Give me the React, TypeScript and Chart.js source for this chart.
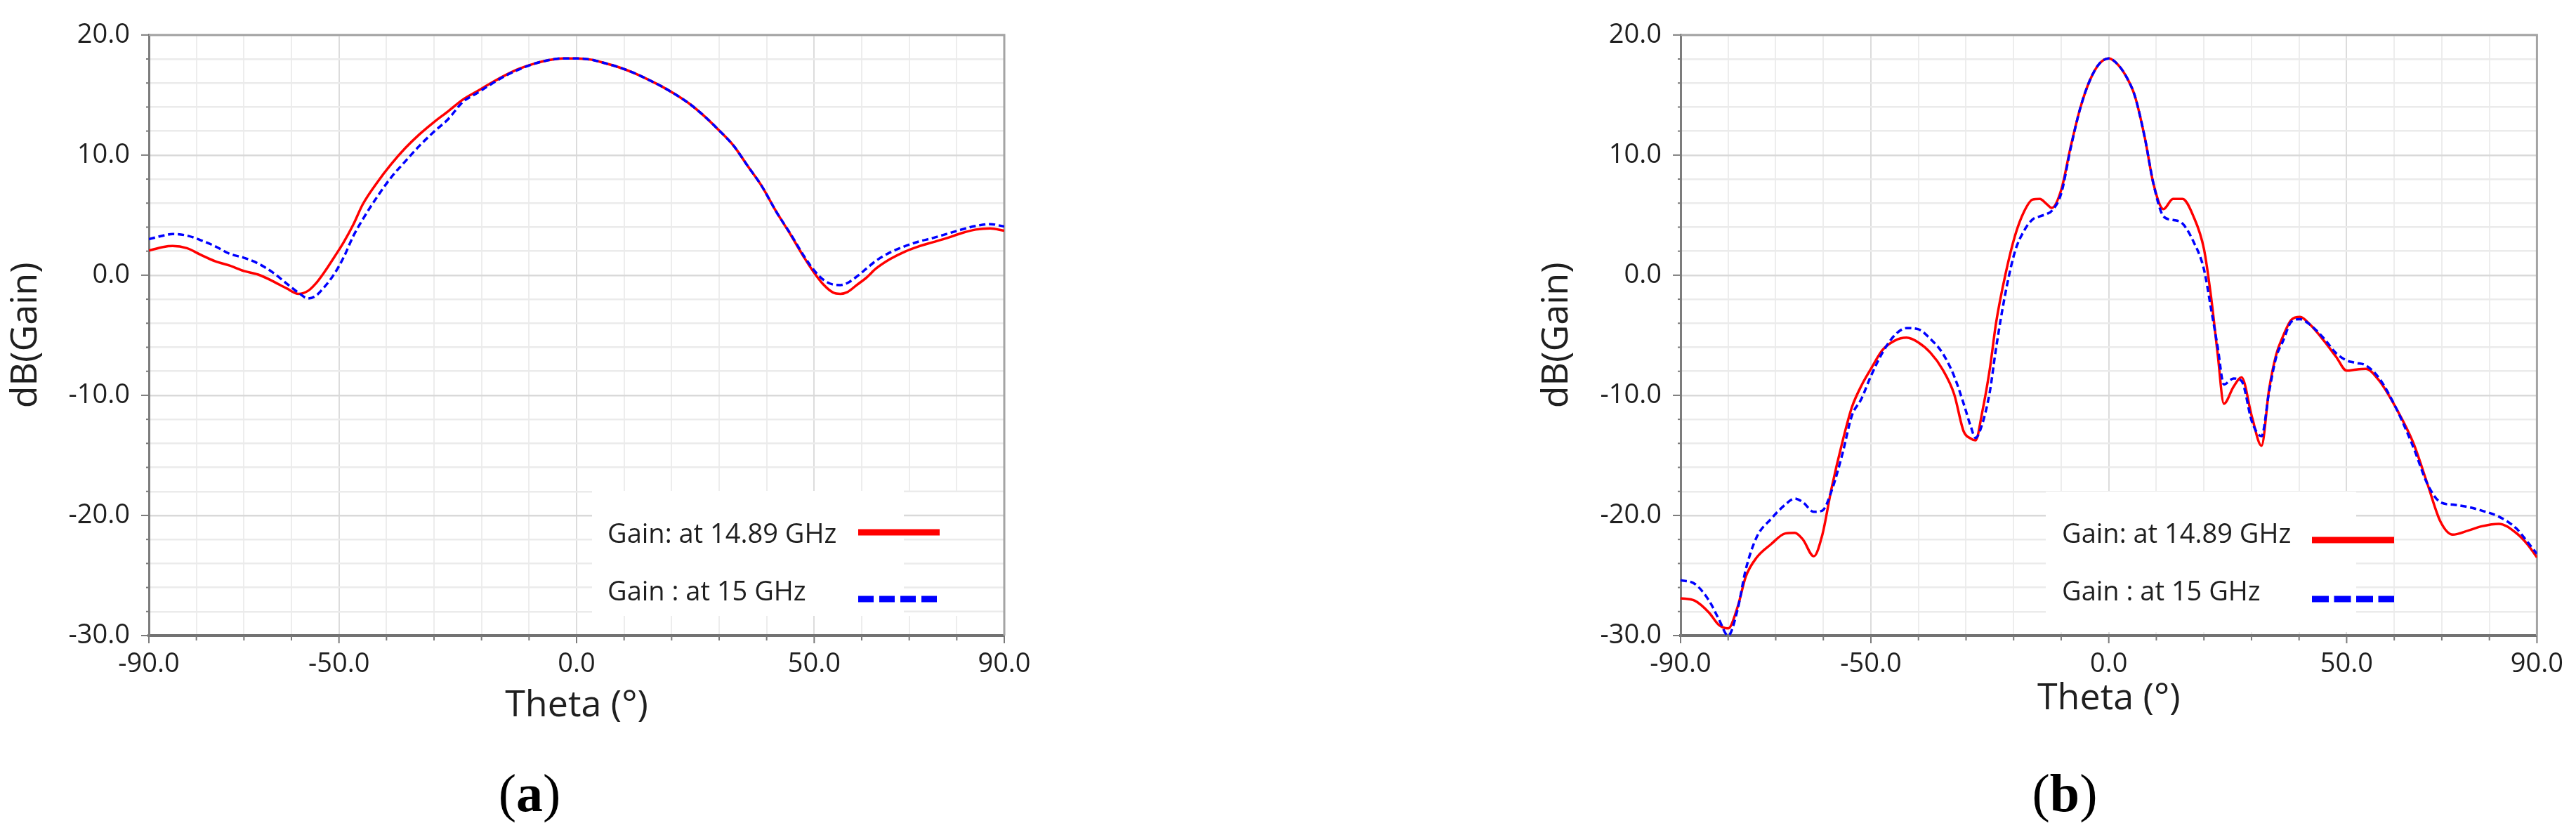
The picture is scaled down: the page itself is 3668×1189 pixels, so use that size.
import React, { useEffect, useRef } from 'react';
import { Chart, registerables } from 'chart.js';

Chart.register(...registerables);

const FONT = "'Open Sans', 'Noto Sans', sans-serif";
const TEXT = '#1f1f1f';
const RED = '#ff0000';
const BLUE = '#0000ff';

const LABEL_RED = 'Gain: at 14.89 GHz';
const LABEL_BLUE = 'Gain : at 15 GHz';
const X_TITLE = 'Theta (°)';
const Y_TITLE = 'dB(Gain)';

const X_LABELED = [-90, -50, 0, 50, 90];
const Y_LABELED = [20, 10, 0, -10, -20, -30];

// ---------- Panel (a) ----------
const thetaA = [-90, -87, -85, -82, -79, -76, -73, -70, -67, -64, -61, -58.5, -56.5, -55, -53, -51, -49, -47, -45, -42, -39, -36, -33, -30, -27, -24, -21, -18, -15, -12, -9, -6, -3, 0, 3, 6, 9, 12, 15, 18, 21, 24, 27, 30, 33, 36, 39, 42, 45, 48, 50, 52, 54, 55.5, 57, 59, 61, 63, 66, 69, 72, 75, 78, 81, 84, 87, 90];
const gainA1489 = [2.05, 2.35, 2.43, 2.25, 1.68, 1.15, 0.8, 0.35, 0.05, -0.48, -1.1, -1.55, -1.3, -0.75, 0.3, 1.5, 2.75, 4.2, 5.9, 7.7, 9.25, 10.6, 11.75, 12.75, 13.65, 14.6, 15.3, 16.0, 16.65, 17.2, 17.6, 17.9, 18.05, 18.05, 17.95, 17.65, 17.3, 16.85, 16.3, 15.7, 15.0, 14.2, 13.2, 12.05, 10.8, 9.1, 7.4, 5.3, 3.4, 1.4, 0.2, -0.8, -1.45, -1.55, -1.4, -0.8, -0.2, 0.55, 1.35, 1.95, 2.4, 2.75, 3.1, 3.5, 3.8, 3.9, 3.7];
const gainA15 = [3.0, 3.3, 3.43, 3.3, 2.9, 2.4, 1.78, 1.45, 0.97, 0.25, -0.7, -1.47, -1.93, -1.75, -0.95, 0.1, 1.5, 3.25, 4.65, 6.5, 8.15, 9.5, 10.8, 11.95, 13.0, 14.4, 15.15, 15.9, 16.6, 17.15, 17.6, 17.9, 18.05, 18.05, 17.95, 17.65, 17.3, 16.85, 16.3, 15.7, 15.0, 14.2, 13.2, 12.05, 10.8, 9.1, 7.4, 5.3, 3.45, 1.5, 0.4, -0.4, -0.78, -0.82, -0.65, -0.1, 0.55, 1.2, 1.9, 2.4, 2.8, 3.1, 3.45, 3.8, 4.1, 4.25, 4.06];

// ---------- Panel (b) ----------
const thetaB = [-90, -87, -84, -82, -80, -78, -76.3, -74, -71, -68, -66, -64.3, -62, -60.2, -58.3, -56, -54, -52, -50, -47.5, -45, -42.5, -40, -37.5, -35, -32.5, -30.5, -29, -28, -26.6, -25, -23.7, -21.7, -19.7, -17.8, -16, -14.5, -13, -12, -10, -8, -6, -4, -2, 0, 2, 4, 5.5, 7.6, 9.4, 11.5, 13.5, 15.5, 17.8, 20, 21.5, 22.9, 24.2, 26.2, 27.9, 30.1, 32.1, 33.7, 35.2, 36.6, 38.4, 40.2, 42.4, 45.3, 47.8, 50, 52, 54, 56.8, 60.4, 64, 67, 69.7, 72.3, 75.6, 78.4, 82, 85.6, 88, 90];
const gainB1489 = [-26.9, -27.1, -28.1, -29.1, -29.4, -27.6, -25.1, -23.5, -22.4, -21.5, -21.45, -22.0, -23.4, -21.6, -17.8, -13.9, -11.0, -9.2, -7.8, -6.2, -5.45, -5.2, -5.6, -6.45, -7.8, -9.9, -13.0, -13.6, -13.75, -11.4, -7.8, -4.0, 0.1, 3.3, 5.3, 6.3, 6.35, 5.9, 5.6, 7.1, 10.7, 13.9, 16.2, 17.6, 18.05, 17.5, 16.3, 14.9, 11.4, 7.6, 5.5, 6.35, 6.35, 4.9, 2.2, -1.8, -6.6, -10.7, -9.3, -8.5, -11.8, -14.2, -9.5, -6.6, -5.1, -3.7, -3.47, -4.15, -5.5, -6.8, -7.95, -7.85, -7.8, -8.76, -11.07, -13.95, -17.4, -20.5, -21.6, -21.25, -20.9, -20.7, -21.45, -22.4, -23.5];
const gainB15 = [-25.4, -25.7, -27.1, -28.6, -30.0, -27.8, -24.5, -21.8, -20.3, -19.1, -18.6, -18.9, -19.7, -19.6, -18.0, -14.9, -11.7, -10.3, -8.4, -6.4, -5.0, -4.4, -4.5, -5.3, -6.45, -8.4, -10.7, -12.6, -13.55, -12.4, -9.7, -6.1, -1.45, 2.0, 3.7, 4.65, 4.9, 5.1, 5.35, 6.8, 10.6, 13.9, 16.2, 17.6, 18.05, 17.5, 16.3, 14.9, 11.4, 7.6, 4.9, 4.6, 4.3, 2.8, 0.5, -2.8, -6.0, -9.1, -8.6, -8.8, -12.2, -13.4, -9.7, -6.8, -5.5, -3.86, -3.66, -4.15, -5.3, -6.5, -7.1, -7.3, -7.5, -8.56, -11.07, -14.3, -17.4, -18.9, -19.1, -19.3, -19.6, -20.1, -21.06, -22.2, -23.2];

type PanelCfg = {
  left: number;
  width: number;
  padTop: number;
  padRight: number;
  padBottom: number;
  yWidth: number;
  xHeight: number;
  box: { x1: number; x2: number; y1: number; y2: number; redrawFrom: number | null };
  legend: { textX: number; base1: number; base2: number; sx1: number; sx2: number; redY: number; blueY: number; dash: number[] };
  theta: number[];
  red: number[];
  blue: number[];
  tag: string;
  tagCenter: number;
};

const near = (v: number, list: number[]) => list.some((l) => Math.abs(l - v) < 1e-6);

const hGridColor = (v: number) => (near(v, Y_LABELED) ? '#d9d9d9' : '#ebebeb');
const vGridColor = (v: number) => (near(v, X_LABELED) ? '#dcdcdc' : '#ededed');

function Panel({ cfg }: { cfg: PanelCfg }) {
  const ref = useRef<HTMLCanvasElement>(null);
  useEffect(() => {
    const canvas = ref.current;
    if (!canvas) return;
    const pts = (xs: number[], ys: number[]) => xs.map((x, i) => ({ x, y: ys[i] }));

    const frame = {
      id: 'frame',
      beforeDatasetsDraw(chart: any) {
        const { ctx, chartArea: a, scales } = chart;
        const b = cfg.box;
        ctx.save();
        ctx.fillStyle = '#ffffff';
        ctx.fillRect(b.x1, b.y1, b.x2 - b.x1, b.y2 - b.y1);
        if (b.redrawFrom !== null) {
          for (const t of scales.y.ticks) {
            const py = scales.y.getPixelForValue(t.value);
            if (py > b.y1 && py < b.y2) {
              ctx.strokeStyle = hGridColor(t.value);
              ctx.lineWidth = 2.5;
              ctx.beginPath();
              ctx.moveTo(b.redrawFrom, py);
              ctx.lineTo(a.right, py);
              ctx.stroke();
            }
          }
        }
        ctx.strokeStyle = '#a4a4a4';
        ctx.lineWidth = 3;
        ctx.beginPath();
        ctx.moveTo(a.left, a.top);
        ctx.lineTo(a.right, a.top);
        ctx.lineTo(a.right, a.bottom);
        ctx.stroke();
        ctx.strokeStyle = '#7a7a7a';
        ctx.lineWidth = 2;
        for (const t of scales.y.ticks) {
          const py = scales.y.getPixelForValue(t.value);
          const len = near(t.value, Y_LABELED) ? 11 : 4;
          ctx.beginPath();
          ctx.moveTo(a.left - len, py);
          ctx.lineTo(a.left, py);
          ctx.stroke();
        }
        for (const t of scales.x.ticks) {
          const px = scales.x.getPixelForValue(t.value);
          const len = near(t.value, X_LABELED) ? 11 : 7;
          ctx.beginPath();
          ctx.moveTo(px, a.bottom);
          ctx.lineTo(px, a.bottom + len);
          ctx.stroke();
        }
        ctx.restore();
      },
      afterDraw(chart: any) {
        const { ctx } = chart;
        const L = cfg.legend;
        const ds = chart.data.datasets;
        ctx.save();
        ctx.font = `38px ${FONT}`;
        ctx.fillStyle = TEXT;
        ctx.textAlign = 'left';
        ctx.textBaseline = 'alphabetic';
        ctx.fillText(ds[0].label, L.textX, L.base1);
        ctx.fillText(ds[1].label, L.textX, L.base2);
        ctx.lineCap = 'butt';
        ctx.lineWidth = 9;
        ctx.strokeStyle = RED;
        ctx.setLineDash([]);
        ctx.beginPath();
        ctx.moveTo(L.sx1, L.redY);
        ctx.lineTo(L.sx2, L.redY);
        ctx.stroke();
        ctx.strokeStyle = BLUE;
        ctx.setLineDash(L.dash);
        ctx.beginPath();
        ctx.moveTo(L.sx1, L.blueY);
        ctx.lineTo(L.sx2, L.blueY);
        ctx.stroke();
        ctx.restore();
      },
    };

    const chart = new Chart(canvas, {
      type: 'line',
      data: {
        datasets: [
          {
            label: LABEL_RED,
            data: pts(cfg.theta, cfg.red),
            borderColor: RED,
            borderWidth: 3.5,
            pointRadius: 0,
            fill: false,
            cubicInterpolationMode: 'monotone',
            order: 2,
          },
          {
            label: LABEL_BLUE,
            data: pts(cfg.theta, cfg.blue),
            borderColor: BLUE,
            borderWidth: 3.5,
            borderDash: [9, 5],
            pointRadius: 0,
            fill: false,
            cubicInterpolationMode: 'monotone',
            order: 1,
          },
        ],
      },
      options: {
        animation: false,
        responsive: false,
        maintainAspectRatio: false,
        devicePixelRatio: 1,
        events: [],
        layout: { padding: { left: 0, top: cfg.padTop, right: cfg.padRight, bottom: cfg.padBottom } },
        plugins: { legend: { display: false }, tooltip: { enabled: false }, title: { display: false } },
        scales: {
          x: {
            type: 'linear',
            min: -90,
            max: 90,
            ticks: {
              stepSize: 10,
              autoSkip: false,
              maxRotation: 0,
              padding: 18,
              color: TEXT,
              font: { family: FONT, size: 38 },
              callback: (v: any) => (near(Number(v), X_LABELED) ? Number(v).toFixed(1) : ''),
            },
            grid: {
              drawTicks: false,
              color: (c: any) => vGridColor(c.tick ? c.tick.value : 0),
              lineWidth: 2,
            },
            border: { display: true, color: '#727272', width: 4 },
            title: {
              display: true,
              text: X_TITLE,
              color: TEXT,
              font: { family: FONT, size: 52 },
              padding: { top: 0, bottom: 0 },
            },
            afterFit: (s: any) => {
              s.height = cfg.xHeight;
            },
          },
          y: {
            type: 'linear',
            min: -30,
            max: 20,
            ticks: {
              stepSize: 2,
              autoSkip: false,
              padding: 27,
              color: TEXT,
              font: { family: FONT, size: 38 },
              callback: (v: any) => (near(Number(v), Y_LABELED) ? Number(v).toFixed(1) : ''),
            },
            grid: {
              drawTicks: false,
              color: (c: any) => hGridColor(c.tick ? c.tick.value : 0),
              lineWidth: 2.5,
            },
            border: { display: true, color: '#7c7c7c', width: 3 },
            title: {
              display: true,
              text: Y_TITLE,
              color: TEXT,
              font: { family: FONT, size: 52 },
              padding: { top: 6, bottom: 0 },
            },
            afterFit: (s: any) => {
              s.width = cfg.yWidth;
            },
          },
        },
      } as any,
      plugins: [frame as any],
    });
    return () => chart.destroy();
  }, [cfg]);

  return (
    <>
      <canvas
        ref={ref}
        width={cfg.width}
        height={1189}
        style={{ position: 'absolute', left: cfg.left, top: 0, width: cfg.width, height: 1189 }}
      />
      <div
        style={{
          position: 'absolute',
          left: cfg.tagCenter - 100,
          width: 200,
          top: 1091,
          textAlign: 'center',
          fontFamily: "'Liberation Serif', 'Times New Roman', serif",
          fontSize: 76,
          lineHeight: '76px',
          color: '#000',
        }}
      >
        (<b>{cfg.tag}</b>)
      </div>
    </>
  );
}

const PANEL_A: PanelCfg = {
  left: 0,
  width: 1530,
  padTop: 34,
  padRight: 100,
  padBottom: 153,
  yWidth: 212,
  xHeight: 131,
  box: { x1: 843, x2: 1428, y1: 699, y2: 877, redrawFrom: 1287 },
  legend: { textX: 865, base1: 773, base2: 855, sx1: 1222, sx2: 1338, redY: 758, blueY: 853, dash: [22, 8] },
  theta: thetaA,
  red: gainA1489,
  blue: gainA15,
  tag: 'a',
  tagCenter: 754,
};

const PANEL_B: PanelCfg = {
  left: 2180,
  width: 1488,
  padTop: 38,
  padRight: 53,
  padBottom: 163,
  yWidth: 213,
  xHeight: 121,
  box: { x1: 733, x2: 1175, y1: 700, y2: 900, redrawFrom: null },
  legend: { textX: 756, base1: 773, base2: 855, sx1: 1112, sx2: 1229, redY: 769, blueY: 853, dash: [24, 7.5] },
  theta: thetaB,
  red: gainB1489,
  blue: gainB15,
  tag: 'b',
  tagCenter: 2940,
};

export default function App() {
  return (
    <div style={{ position: 'fixed', left: 0, top: 0, width: 3668, height: 1189, background: '#ffffff', overflow: 'hidden' }}>
      <Panel cfg={PANEL_A} />
      <Panel cfg={PANEL_B} />
    </div>
  );
}
